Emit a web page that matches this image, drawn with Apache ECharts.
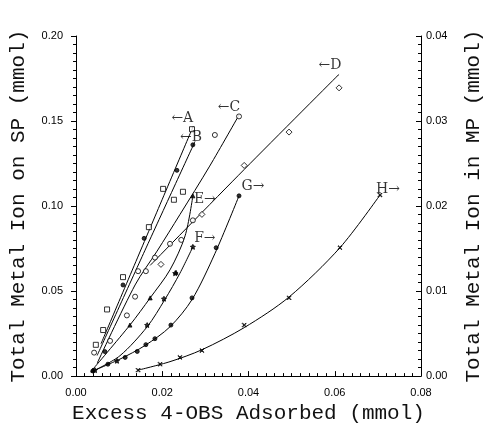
<!DOCTYPE html>
<html><head><meta charset="utf-8">
<script src="https://cdn.jsdelivr.net/npm/echarts@6/dist/echarts.min.js"></script>
<style>html,body{margin:0;padding:0;background:#fff}#c{width:492px;height:429px}</style>
</head><body><div id="c"></div>
<script>
// ---- data (x: excess 4-OBS adsorbed, mmol) ----
// Left axis series (Total metal ion on SP)
const ptsA = [[0.0046,0.0184],[0.0063,0.0271],[0.0072,0.0392],[0.0109,0.0582],[0.0169,0.0876],[0.0202,0.1101],[0.0227,0.1037],[0.0248,0.1084],[0.0269,0.1452]];
const fitA = [[0.0058,0.0190],[0.0165,0.0830],[0.0272,0.1470]];
const ptsB = [[0.0067,0.0144],[0.0109,0.0536],[0.0158,0.0810],[0.0234,0.1210],[0.0271,0.1360]];
const fitB = [[0.0049,0.0121],[0.0160,0.0740],[0.0276,0.1380]];
const ptsC = [[0.0042,0.0138],[0.0079,0.0207],[0.0118,0.0357],[0.0137,0.0467],[0.0144,0.0617],[0.0162,0.0617],[0.0183,0.0697],[0.0218,0.0778],[0.0244,0.0801],[0.0271,0.0916],[0.0322,0.1418],[0.0378,0.1527]];
const fitC = [[0.0049,0.0075],[0.0137,0.0536],[0.0188,0.0735],[0.0241,0.0950],[0.0310,0.1235],[0.0378,0.1535]];
const ptsD = [[0.0197,0.0657],[0.0292,0.0951],[0.0390,0.1239],[0.0494,0.1435],[0.0610,0.1695]];
const fitD = [[0.0172,0.0651],[0.0390,0.1215],[0.0610,0.1775]];
// Right axis series (Total metal ion in MP)
const ptsE = [[0.0039,0.0007],[0.0125,0.0060],[0.0172,0.0092],[0.0232,0.0122],[0.0271,0.0212]];
const fitE = [[0.0039,0.0008],[0.0125,0.0060],[0.0172,0.0092],[0.0218,0.0125],[0.0253,0.0165],[0.0271,0.0212]];
const ptsF = [[0.0044,0.0007],[0.0095,0.0018],[0.0165,0.0060],[0.0204,0.0091],[0.0230,0.0121],[0.0271,0.0152]];
const fitF = [[0.0044,0.0007],[0.0102,0.0024],[0.0165,0.0058],[0.0206,0.0090],[0.0241,0.0121],[0.0271,0.0152]];
const ptsG = [[0.0039,0.0006],[0.0074,0.0014],[0.0114,0.0022],[0.0142,0.0029],[0.0162,0.0037],[0.0183,0.0044],[0.0220,0.0060],[0.0269,0.0092],[0.0325,0.0151],[0.0378,0.0212]];
const fitG = [[0.0039,0.0006],[0.0102,0.0020],[0.0160,0.0036],[0.0218,0.0058],[0.0269,0.0090],[0.0322,0.0144],[0.0378,0.0212]];
const ptsH = [[0.0144,0.0007],[0.0195,0.0014],[0.0241,0.0022],[0.0292,0.0030],[0.0390,0.0060],[0.0494,0.0092],[0.0612,0.0151],[0.0705,0.0213]];
const fitH = [[0.0144,0.0007],[0.0218,0.0017],[0.0292,0.0031],[0.0390,0.0057],[0.0494,0.0093],[0.0612,0.0151],[0.0705,0.0213]];
const labelText = ['\u2190A','\u2190B','\u2190C','\u2190D','E\u2192','F\u2192','G\u2192','H\u2192'];

const xTitle = 'Excess 4-OBS Adsorbed (mmol)';
const yLeftTitle = 'Total Metal Ion on SP (mmol)';
const yRightTitle = 'Total Metal Ion in MP (mmol)';

const star = 'path://M0,-10L2.9,-4L9.5,-3.1L4.8,1.5L5.9,8.1L0,5L-5.9,8.1L-4.8,1.5L-9.5,-3.1L-2.9,-4Z';
const cross = 'path://M-10,-8L-8,-10L0,-2L8,-10L10,-8L2,0L10,8L8,10L0,2L-8,10L-10,8L-2,0Z';

function lineS(data, yi){return {type:'line',data:data,yAxisIndex:yi,smooth:0.3,showSymbol:false,symbol:'none',lineStyle:{color:'#000',width:1},z:2,silent:true};}
function ptS(data, yi, sym, size, filled){return {type:'scatter',data:data,yAxisIndex:yi,symbol:sym,symbolSize:size,
  itemStyle:{color:filled?'#000':'#fff',borderColor:'#000',borderWidth:1},z:3};}
function lab(pt, yi, text, off){return {type:'scatter',data:[pt],yAxisIndex:yi,symbolSize:0,z:4,
  label:{show:true,position:'inside',formatter:text,offset:off,color:'#000',fontFamily:'DejaVu Serif, Liberation Serif, serif',fontSize:14}};}

const chart = echarts.init(document.getElementById('c'),null,{renderer:'canvas'});
const axisLabelStyle = {color:'#000',fontFamily:'Liberation Sans, Arial, sans-serif',fontSize:11};
const titleStyle = {color:'#111',fontFamily:'Liberation Mono, Courier New, monospace',fontSize:21};
chart.setOption({
  animation:false,
  grid:{left:76,right:71,top:36,bottom:45},
  xAxis:{type:'value',min:0,max:0.08,interval:0.02,
    name:xTitle,nameLocation:'middle',nameGap:23,nameTextStyle:titleStyle,
    axisLine:{show:true,lineStyle:{color:'#000',width:1}},
    axisTick:{show:true,inside:true,length:5,lineStyle:{color:'#000'}},
    minorTick:{show:true,splitNumber:10,length:3,lineStyle:{color:'#000'}},
    splitLine:{show:false},
    axisLabel:Object.assign({margin:11,formatter:v=>v.toFixed(2)},axisLabelStyle)},
  yAxis:[
    {type:'value',min:0,max:0.2,interval:0.05,position:'left',
     name:yLeftTitle,nameLocation:'middle',nameGap:47,nameRotate:90,nameTextStyle:titleStyle,
     axisLine:{show:true,lineStyle:{color:'#000',width:1}},
     axisTick:{show:true,inside:false,length:5,lineStyle:{color:'#000'}},
     minorTick:{show:true,splitNumber:10,length:3,lineStyle:{color:'#000'}},
     splitLine:{show:false},
     axisLabel:Object.assign({margin:13,formatter:v=>v.toFixed(2)},axisLabelStyle)},
    {type:'value',min:0,max:0.04,interval:0.01,position:'right',
     name:yRightTitle,nameLocation:'middle',nameGap:42,nameRotate:90,nameTextStyle:titleStyle,
     axisLine:{show:true,lineStyle:{color:'#000',width:1}},
     axisTick:{show:true,inside:true,length:5,lineStyle:{color:'#000'}},
     minorTick:{show:true,splitNumber:10,length:3,lineStyle:{color:'#000'}},
     splitLine:{show:false},
     axisLabel:Object.assign({margin:5,formatter:v=>v.toFixed(2)},axisLabelStyle)}
  ],
  series:[
    lineS(fitA,0), ptS(ptsA,0,'rect',5,false),
    lineS(fitB,0), ptS(ptsB,0,'circle',4,true),
    lineS(fitC,0), ptS(ptsC,0,'circle',5,false),
    lineS(fitD,0), ptS(ptsD,0,'diamond',6,false),
    lineS(fitE,1), ptS(ptsE,1,'triangle',4,true),
    lineS(fitF,1), ptS(ptsF,1,star,5,true),
    lineS(fitG,1), ptS(ptsG,1,'circle',4,true),
    lineS(fitH,1), ptS(ptsH,1,cross,4,true),
    lab(fitA[fitA.length-1],0,labelText[0],[-11,-8]),
    lab(fitB[fitB.length-1],0,labelText[1],[-4,-4]),
    lab(fitC[fitC.length-1],0,labelText[2],[-10,-8]),
    lab(fitD[fitD.length-1],0,labelText[3],[-9,-9]),
    lab(fitE[fitE.length-1],1,labelText[4],[12,4]),
    lab(fitF[fitF.length-1],1,labelText[5],[12,-9]),
    lab(fitG[fitG.length-1],1,labelText[6],[14,-9]),
    lab(fitH[fitH.length-1],1,labelText[7],[8,-6])
  ]
});
</script></body></html>
